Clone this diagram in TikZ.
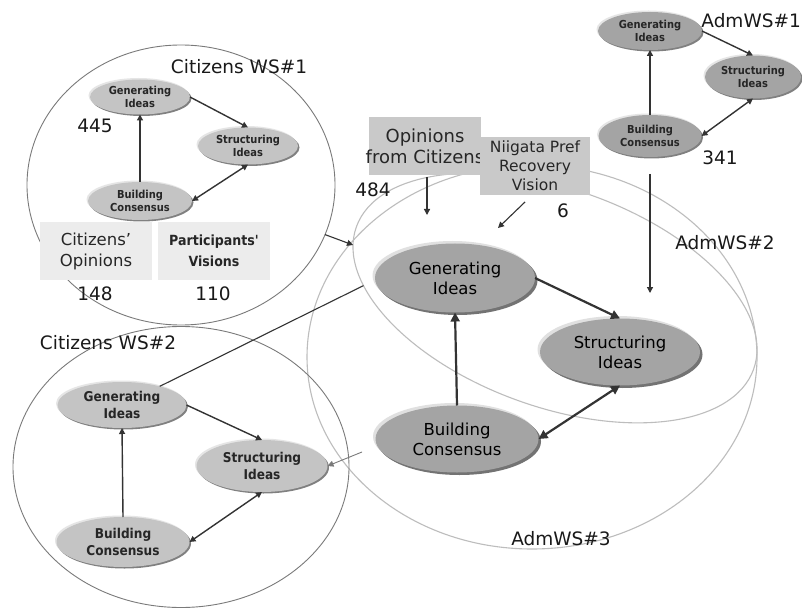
\documentclass[tikz,border=0pt]{standalone}
\usepackage{fontspec}
\setmainfont{DejaVu Sans}
\newfontfamily\condfont{DejaVu Sans Condensed}
\usetikzlibrary{shapes.geometric}
\usetikzlibrary{shadows}
\usetikzlibrary{positioning, arrows.meta}

\definecolor{ovalgray}{HTML}{C4C4C4}
\definecolor{darkoval}{HTML}{A4A4A4}
\definecolor{boxgray}{HTML}{C9C9C9}
\definecolor{paleboxgray}{HTML}{ECECEC}
\definecolor{ringgray}{HTML}{BDBDBD}
\definecolor{wsgray}{HTML}{7A7A7A}
\definecolor{inkgray}{HTML}{333333}

\tikzset{
  oval/.style={ellipse, inner sep=0pt, outer sep=0pt, align=center, text=black!85,
    general shadow={shadow xshift=-1.5pt, shadow yshift=1.5pt, fill=black!10},
    general shadow={shadow xshift=1.5pt, shadow yshift=-1.5pt, fill=black!50}},
  smalloval/.style={oval, fill=ovalgray, font=\condfont\bfseries\fontsize{11}{12.5}\selectfont},
  midoval/.style={oval, fill=ovalgray, font=\condfont\bfseries\fontsize{13.5}{16.5}\selectfont},
  admoval/.style={oval, fill=darkoval, font=\condfont\bfseries\fontsize{11}{12.5}\selectfont},
  bigoval/.style={oval, fill=darkoval, text=black, font=\fontsize{16.5}{20}\selectfont,
    general shadow={shadow xshift=-2.5pt, shadow yshift=2.5pt, fill=black!12},
    general shadow={shadow xshift=2.5pt, shadow yshift=-2.5pt, fill=black!55}},
  wsring/.style={ellipse, draw=wsgray, line width=0.9pt, inner sep=0pt, outer sep=0pt},
  admring/.style={ellipse, draw=ringgray, line width=1.1pt, inner sep=0pt, outer sep=0pt},
  infobox/.style={rectangle, inner sep=0pt, minimum width=112, minimum height=58, align=center,
    text=black!85},
  tag/.style={font=\fontsize{18.5}{22}\selectfont, text=black!90, inner sep=0pt},
  flow/.style={draw=inkgray, line width=1.4pt, -{Triangle[length=6pt,width=6pt]}},
  flowboth/.style={draw=inkgray, line width=1.4pt, {Triangle[length=6pt,width=6pt]}-{Triangle[length=6pt,width=6pt]}},
  bigflow/.style={draw=inkgray, line width=2.2pt, -{Triangle[length=9pt,width=9pt]}},
  bigflowboth/.style={draw=inkgray, line width=2.2pt, {Triangle[length=9pt,width=9pt]}-{Triangle[length=9pt,width=9pt]}},
}

\begin{document}
\begin{tikzpicture}[x=1pt, y=-1pt]
    \fill[white] (0,0) rectangle (802,609);
    \useasboundingbox (0,0) rectangle (802,609);

    % Administration workshop rings
    \node[admring, minimum width=450, minimum height=384] (adm3) at (532,357) {};
    \node[admring, minimum width=422, minimum height=218, rotate=-19.7] (adm2) at (555,298) {};

    % Citizens workshop rings
    \node[wsring, minimum width=308, minimum height=280] (ws1) at (181,185) {};
    \node[wsring, minimum width=336, minimum height=281] (ws2) at (181,467) {};

    \node[tag] at (239,67) (ws1t) {Citizens WS\#1};
    \node[tag] at (108,343) (ws2t) {Citizens WS\#2};
    \node[tag, anchor=east] at (801,21) (adm1t) {AdmWS\#1};
    \node[tag] at (725,243) (adm2t) {AdmWS\#2};
    \node[tag] at (561,539) (adm3t) {AdmWS\#3};

    \node[tag] at (95,126) (n445) {445};
    \node[tag] at (95,294) (n148) {148};
    \node[tag] at (213,294) (n110) {110};
    \node[tag] at (373,190) (n484) {484};
    \node[tag] at (563,211) (n6) {6};
    \node[tag] at (720,158) (n341) {341};

    % Citizens WS#1
    \node[smalloval, minimum width=100, minimum height=35] at (140,97) (g1) {Generating\\Ideas};
    \node[smalloval, minimum width=100, minimum height=37] at (248,146) (s1) {Structuring\\Ideas};
    \node[smalloval, minimum width=104, minimum height=38] at (140,201) (b1) {Building\\Consensus};
    \draw[flow] (g1.east) -- (s1.north);
    \draw[flow] (b1.north) -- (g1.south);
    \draw[flowboth] (b1.east) -- (s1.south);

    \node[infobox, fill=paleboxgray, font=\fontsize{16.5}{21}\selectfont] at (96,251) (cop) {Citizens'\\Opinions};
    \node[infobox, fill=paleboxgray, font=\condfont\bfseries\fontsize{14}{21}\selectfont] at (214,251) (pvis) {Participants'\\Visions};

    % Citizens WS#2
    \node[midoval, minimum width=129, minimum height=46] at (122,405) (g2) {Generating\\Ideas};
    \node[midoval, minimum width=131, minimum height=52] at (262,466) (s2) {Structuring\\Ideas};
    \node[midoval, minimum width=133, minimum height=50] at (123,542) (b2) {Building\\Consensus};
    \draw[flow] (g2.east) -- (s2.north);
    \draw[flow] (b2.north) -- (g2.south);
    \draw[flowboth] (b2.east) -- (s2.south);

    % AdmWS#1
    \node[admoval, minimum width=104, minimum height=38] at (650,31) (a1g) {Generating\\Ideas};
    \node[admoval, minimum width=96, minimum height=43] at (753,77) (a1s) {Structuring\\Ideas};
    \node[admoval, minimum width=103, minimum height=42] at (650,136) (a1b) {Building\\Consensus};
    \draw[flow] (a1g.east) -- (a1s.north);
    \draw[flow] (a1b.north) -- (a1g.south);
    \draw[flowboth] (a1b.east) -- (a1s.south);

    % inputs
    \node[infobox, fill=boxgray, font=\fontsize{18}{21}\selectfont] at (425,146) (opin) {\makebox[0pt]{Opinions}\\\makebox[0pt]{from Citizens}};
    \node[infobox, fill=boxgray, minimum width=110, font=\fontsize{15.5}{19}\selectfont] at (535,166) (niig) {Niigata Pref\\Recovery\\Vision};

    % AdmWS#2 / #3
    \node[bigoval, minimum width=160, minimum height=69] at (455,278) (ag) {Generating\\Ideas};
    \node[bigoval, minimum width=160, minimum height=67] at (620,352) (as) {Structuring\\Ideas};
    \node[bigoval, minimum width=163, minimum height=67] at (457,439) (ab) {Building\\Consensus};
    \draw[bigflow] (ag.east) -- (as.north);
    \draw[bigflow] (ab.north) -- (ag.south);
    \draw[bigflowboth] (ab.east) -- (as.south);

    \coordinate (opdown) at (427,215);
    \coordinate (niout) at (525,202);
    \coordinate (niin) at (498,228);
    \coordinate (a1down) at (650,293);
    \coordinate (about) at (362,452);

    \draw[flow, line width=1.3pt, shorten <=2pt] (opin.south -| opdown) -- (opdown);
    \draw[flow, line width=1.1pt] (niout) -- (niin);
    \draw[flow, line width=1.3pt, shorten <=17pt] (a1b.south) -- (a1down);
    \draw[flow, line width=1.1pt] (ws1.-19.5) -- (adm2.185.5);
    \draw[draw=inkgray, line width=1.1pt] (adm2.196) -- (g2);
    \draw[flow, draw=wsgray, line width=0.9pt] (about) -- (s2.east);
\end{tikzpicture}
\end{document}
